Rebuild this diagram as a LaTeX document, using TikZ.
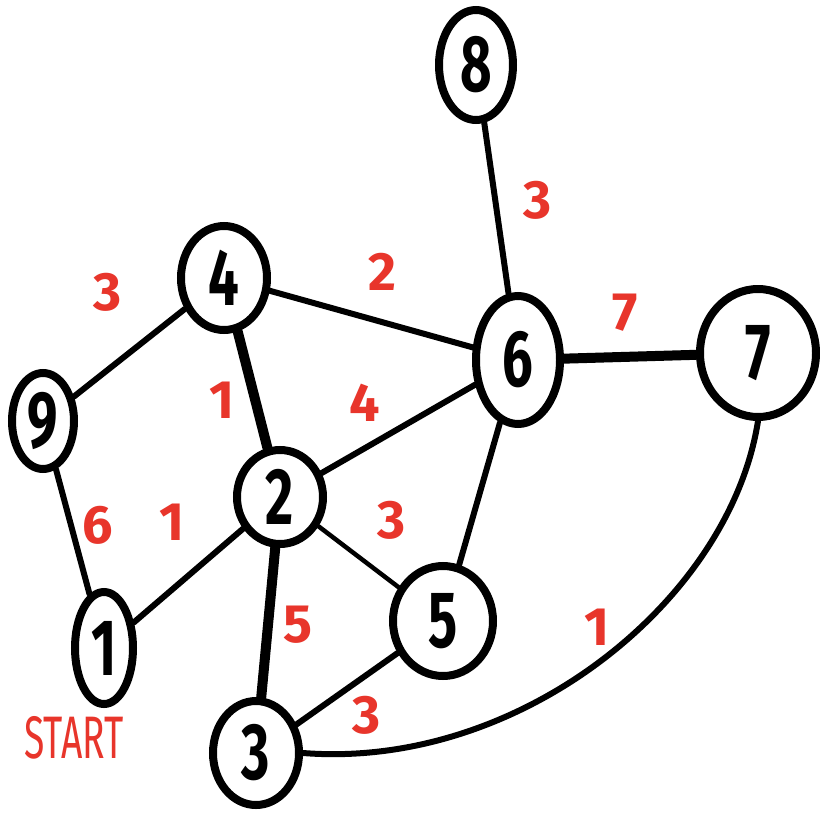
\documentclass[tikz,border=0pt]{standalone}
\usepackage{fontspec}
\setmainfont{Fira Sans}
\usetikzlibrary{shapes.geometric}
\definecolor{lblred}{HTML}{E8352B}
\tikzset{
  vtx/.style={ellipse, draw=black, line width=8pt, inner sep=0pt,
    font=\bfseries\fontsize{80}{80}\selectfont},
  edge/.style={line width=6pt, line cap=round},
  heavy/.style={line width=10pt, line cap=round},
  light/.style={line width=4.5pt, line cap=round},
  wlabel/.style={text=lblred, font=\bfseries\fontsize{54}{54}\selectfont, inner sep=0pt},
}
\newcommand{\nar}[1]{\scalebox{0.68}[1]{#1}}
\begin{document}
\begin{tikzpicture}[x=1pt,y=-1pt]
\useasboundingbox[fill=white] (0,0) rectangle (820,814);
\node[vtx, minimum width=74pt, minimum height=110pt] (n8) at (476,65) {\nar{8}};
\node[vtx, minimum width=86pt, minimum height=104pt] (n4) at (224,278) {\nar{4}};
\node[vtx, minimum width=84pt, minimum height=128pt] (n6) at (518,360) {\nar{6}};
\node[vtx, minimum width=116pt, minimum height=128pt] (n7) at (758,353) {\nar{7}};
\node[vtx, minimum width=62pt, minimum height=96pt] (n9) at (43,421) {\nar{9}};
\node[vtx, minimum width=86pt, minimum height=94pt] (n2) at (280,497) {\nar{2}};
\node[vtx, minimum width=100pt, minimum height=110pt] (n5) at (443,621) {\nar{5}};
\node[vtx, minimum width=58pt, minimum height=112pt] (n1) at (104,648) {\nar{1}};
\node[vtx, minimum width=86pt, minimum height=104pt] (n3) at (256,753) {\nar{3}};

\draw[edge] (n8) -- (n6);
\draw[edge] (n4) -- (n6);
\draw[heavy] (n6) -- (n7);
\draw[edge] (n4) -- (n9);
\draw[heavy] (n4) -- (n2);
\draw[edge] (n2) -- (n6);
\draw[edge] (n9) -- (n1);
\draw[edge] (n2) -- (n1);
\draw[light] (n2) -- (n5);
\draw[edge] (n6) -- (n5);
\draw[heavy] (n2) -- (n3);
\draw[edge] (n5) -- (n3);
\draw[edge] (n7.south) .. controls (730,600) and (520,770) .. (n3.east);

\node[wlabel] (w86) at (538,200) {3};
\node[wlabel] (w46) at (382,272) {2};
\node[wlabel] (w67) at (625,313) {7};
\node[wlabel] (w49) at (108,292) {3};
\node[wlabel] (w42) at (222,400) {1};
\node[wlabel] (w26) at (365,403) {4};
\node[wlabel] (w91) at (98,525) {6};
\node[wlabel] (w21) at (172,522) {1};
\node[wlabel] (w25) at (392,520) {3};
\node[wlabel] (w23) at (298,625) {5};
\node[wlabel] (w53) at (367,715) {3};
\node[wlabel] (w73) at (597,627) {1};
\node[text=lblred, font=\fontsize{60}{60}\selectfont, inner sep=0pt] (start) at (74,738) {\scalebox{0.62}[1]{START}};
\end{tikzpicture}
\end{document}
